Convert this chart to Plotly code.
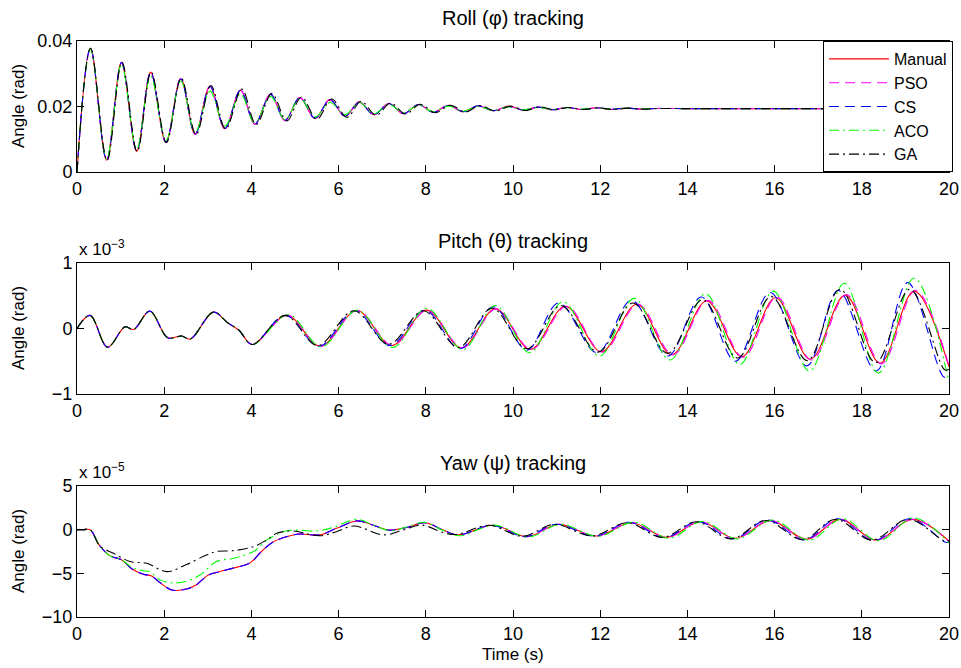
import plotly.graph_objects as go

# ---------------- data ----------------
series_names = ["Manual", "PSO", "CS", "ACO", "GA"]
series_colors = ["#FF0000", "#FF00FF", "#0000FF", "#00FF00", "#000000"]
series_dash = ["solid", "10px,6px", "10px,6px", "10px,4px,2px,4px", "10px,4px,2px,4px"]

# Roll (rad)
roll_t = [0, 0.31, 0.68, 1.02, 1.37, 1.69, 2.04, 2.38, 2.71, 3.05, 3.39, 3.75, 4.08, 4.44,
          4.77, 5.11, 5.46, 5.80, 6.15, 6.47, 6.81, 7.15, 7.49, 7.83, 8.17, 8.52, 8.86,
          9.20, 9.55, 9.90, 10.24, 10.58, 10.90, 11.24, 11.58, 11.92, 12.26, 12.61, 12.95,
          13.30, 14.0, 15.0, 16.0, 17.0, 18.0, 19.0, 20.0]
roll_manual = [0, 0.0378, 0.0036, 0.0335, 0.0063, 0.0305, 0.0090, 0.0285, 0.0115, 0.0262,
               0.0132, 0.0250, 0.0146, 0.0238, 0.0157, 0.0227, 0.0163, 0.0221, 0.0170, 0.0214,
               0.0175, 0.0209, 0.0178, 0.0206, 0.0182, 0.0204, 0.0184, 0.0202, 0.0187, 0.0201,
               0.0189, 0.0198, 0.0190, 0.0197, 0.0191, 0.0196, 0.0191, 0.0195, 0.0192, 0.0194,
               0.01935, 0.01935, 0.01935, 0.01935, 0.01935, 0.01935, 0.01935]
roll_pso = [0, 0.0378, 0.0036, 0.0335, 0.0063, 0.0305, 0.0090, 0.0285, 0.0115, 0.0262,
            0.0132, 0.0250, 0.0146, 0.0238, 0.0157, 0.0227, 0.0163, 0.0221, 0.0170, 0.0214,
            0.0175, 0.0209, 0.0178, 0.0206, 0.0182, 0.0204, 0.0184, 0.0202, 0.0187, 0.0201,
            0.0189, 0.0198, 0.0190, 0.0197, 0.0191, 0.0196, 0.0191, 0.0195, 0.0192, 0.0194,
            0.01935, 0.01935, 0.01935, 0.01935, 0.01935, 0.01935, 0.01935]
roll_cs = [0, 0.0378, 0.0036, 0.0334, 0.0064, 0.0304, 0.0091, 0.0284, 0.0116, 0.0261,
           0.0133, 0.0250, 0.0147, 0.0237, 0.0158, 0.0227, 0.0164, 0.0220, 0.0170, 0.0213,
           0.0175, 0.0209, 0.0178, 0.0206, 0.0182, 0.0203, 0.0184, 0.0202, 0.0187, 0.0200,
           0.0189, 0.0198, 0.0190, 0.0197, 0.0191, 0.0196, 0.0192, 0.0195, 0.0192, 0.0194,
           0.01935, 0.01935, 0.01935, 0.01935, 0.01935, 0.01935, 0.01935]
roll_aco = [0, 0.0376, 0.0040, 0.0328, 0.0070, 0.0293, 0.0096, 0.0278, 0.0120, 0.0247,
            0.0140, 0.0238, 0.0150, 0.0231, 0.0160, 0.0224, 0.0168, 0.0212, 0.0175, 0.0212,
            0.0178, 0.0206, 0.0181, 0.0204, 0.0184, 0.0201, 0.0186, 0.0200, 0.0188, 0.0199,
            0.0190, 0.0197, 0.0191, 0.0196, 0.0192, 0.0195, 0.0192, 0.0195, 0.0193, 0.0194,
            0.01935, 0.01935, 0.01935, 0.01935, 0.01935, 0.01935, 0.01935]
roll_ga_t = [0, 0.31, 0.69, 1.03, 1.38, 1.70, 2.05, 2.39, 2.73, 3.07, 3.41, 3.78, 4.11, 4.47,
             4.81, 5.15, 5.50, 5.84, 6.19, 6.52, 6.86, 7.19, 7.54, 7.87, 8.22, 8.56, 8.91,
             9.24, 9.59, 9.94, 10.28, 10.62, 10.94, 11.28, 11.62, 11.96, 12.30, 12.65, 12.99,
             13.34, 14.0, 15.0, 16.0, 17.0, 18.0, 19.0, 20.0]
roll_ga = [0, 0.0378, 0.0035, 0.0336, 0.0062, 0.0306, 0.0090, 0.0287, 0.0114, 0.0264,
           0.0131, 0.0253, 0.0145, 0.0240, 0.0156, 0.0229, 0.0161, 0.0223, 0.0167, 0.0216,
           0.0173, 0.0210, 0.0177, 0.0207, 0.0181, 0.0204, 0.0183, 0.0203, 0.0186, 0.0201,
           0.0188, 0.0199, 0.0190, 0.0197, 0.0191, 0.0196, 0.0191, 0.0195, 0.0192, 0.0194,
           0.01935, 0.01935, 0.01935, 0.01935, 0.01935, 0.01935, 0.01935]

# Pitch (x 1e-3 rad)
pitch_early_t = [0, 0.30, 0.70, 1.10, 1.30, 1.67, 2.08, 2.40, 2.60, 3.13, 3.45, 3.72, 4.02]
pitch_early_v = [0, 0.20, -0.285, 0.025, -0.015, 0.265, -0.14, -0.115, -0.16, 0.25, 0.09, -0.03, -0.245]

pitch_manual_t = [4.82, 5.58, 6.42, 7.22, 8.02, 8.82, 9.60, 10.40, 11.20, 12.03, 12.84, 13.64,
                  14.44, 15.25, 16.02, 16.82, 17.62, 18.42, 19.20, 20.0]
pitch_manual_v = [0.20, -0.27, 0.275, -0.26, 0.28, -0.295, 0.30, -0.32, 0.34, -0.355, 0.37,
                  -0.40, 0.42, -0.43, 0.47, -0.47, 0.51, -0.53, 0.57, -0.585]
pitch_pso_t = [4.83, 5.59, 6.43, 7.24, 8.04, 8.84, 9.62, 10.42, 11.23, 12.05, 12.87, 13.67,
               14.47, 15.28, 16.05, 16.85, 17.65, 18.45, 19.23, 20.0]
pitch_pso_v = [0.20, -0.27, 0.275, -0.26, 0.28, -0.295, 0.30, -0.32, 0.34, -0.36, 0.37,
               -0.40, 0.43, -0.44, 0.48, -0.48, 0.52, -0.54, 0.58, -0.57]
pitch_cs_t = [4.78, 5.55, 6.38, 7.18, 7.98, 8.78, 9.55, 10.32, 11.05, 11.93, 12.72, 13.55,
              14.32, 15.10, 15.90, 16.74, 17.46, 18.33, 19.05, 19.88, 20.0]
pitch_cs_v = [0.20, -0.27, 0.27, -0.26, 0.28, -0.31, 0.33, -0.33, 0.39, -0.37, 0.43, -0.42,
              0.48, -0.50, 0.55, -0.57, 0.58, -0.65, 0.70, -0.74, -0.72]
pitch_aco_t = [4.85, 5.60, 6.43, 7.24, 8.02, 8.85, 9.60, 10.38, 11.15, 11.98, 12.78, 13.60,
               14.42, 15.20, 15.97, 16.80, 17.60, 18.38, 19.20, 20.0]
pitch_aco_v = [0.21, -0.28, 0.28, -0.29, 0.31, -0.32, 0.35, -0.37, 0.41, -0.42, 0.46, -0.48,
               0.53, -0.55, 0.57, -0.65, 0.69, -0.68, 0.77, -0.82]
pitch_ga_t = [4.78, 5.52, 6.35, 7.15, 7.95, 8.75, 9.52, 10.32, 11.10, 11.95, 12.75, 13.55,
              14.35, 15.15, 15.92, 16.75, 17.50, 18.32, 19.10, 19.90, 20.0]
pitch_ga_v = [0.20, -0.26, 0.27, -0.24, 0.27, -0.29, 0.31, -0.31, 0.35, -0.36, 0.39, -0.38,
              0.44, -0.45, 0.49, -0.49, 0.60, -0.52, 0.60, -0.63, -0.62]

# Yaw (x 1e-5 rad)
yaw_manual_t = [0, 0.15, 0.30, 0.53, 0.76, 1.02, 1.29, 1.52, 1.71, 1.90, 2.17, 2.51, 2.74, 3.01,
                3.28, 3.59, 3.97, 4.23, 4.50, 4.89, 5.11, 5.57, 5.95, 6.41, 6.75, 7.14, 7.56,
                7.98, 8.40, 8.75, 9.55, 10.32, 11.04, 11.92, 12.72, 13.53, 14.30, 15.10,
                15.90, 16.74, 17.50, 18.33, 19.17, 20.0]
yaw_manual_v = [0, 0, 0, -1.9, -3.0, -3.45, -4.6, -5.1, -5.3, -6.05, -6.9, -6.8, -6.3, -5.2,
                -4.8, -4.4, -3.8, -2.5, -1.4, -0.7, -0.5, -0.6, 0.15, 1.0, 0.6, -0.05, 0.25,
                0.8, -0.05, -0.6, 0.5, -0.8, 0.6, -0.72, 0.8, -0.88, 0.9, -1.0, 1.03, -1.1,
                1.18, -1.18, 1.18, -1.3]
yaw_pso_v = [0, 0, 0, -1.9, -3.0, -3.45, -4.6, -5.1, -5.3, -6.05, -6.9, -6.8, -6.3, -5.2,
             -4.8, -4.4, -3.8, -2.5, -1.4, -0.7, -0.5, -0.6, 0.15, 1.0, 0.6, -0.05, 0.25,
             0.8, -0.05, -0.6, 0.5, -0.8, 0.62, -0.74, 0.82, -0.9, 0.92, -1.02, 1.06, -1.12,
             1.2, -1.2, 1.2, -1.35]
yaw_cs_t = [0, 0.15, 0.30, 0.53, 0.76, 1.02, 1.29, 1.52, 1.71, 1.90, 2.17, 2.51, 2.74, 3.01,
            3.28, 3.59, 3.97, 4.23, 4.50, 4.89, 5.11, 5.57, 5.95, 6.41, 6.75, 7.14, 7.56,
            7.98, 8.40, 8.75, 9.52, 10.28, 11.00, 11.88, 12.66, 13.48, 14.24, 15.04,
            15.84, 16.68, 17.44, 18.28, 19.10, 19.92, 20.0]
yaw_cs_v = [0, 0, 0, -1.9, -3.0, -3.45, -4.6, -5.1, -5.3, -6.05, -6.9, -6.8, -6.3, -5.2,
            -4.8, -4.4, -3.8, -2.5, -1.4, -0.7, -0.5, -0.6, 0.15, 1.0, 0.6, -0.05, 0.25,
            0.8, -0.05, -0.6, 0.5, -0.8, 0.62, -0.75, 0.85, -0.92, 0.95, -1.05, 1.1, -1.18,
            1.25, -1.25, 1.25, -1.45, -1.42]
yaw_aco_t = [0, 0.15, 0.30, 0.53, 0.76, 1.02, 1.29, 1.52, 1.67, 1.90, 2.20, 2.50, 2.82, 3.20,
             3.59, 4.05, 4.35, 4.73, 4.96, 5.50, 5.88, 6.41, 6.80, 7.17, 7.56, 7.98, 8.40,
             8.78, 9.58, 10.36, 11.08, 11.96, 12.78, 13.57, 14.35, 15.14, 15.95, 16.79,
             17.56, 18.38, 19.20, 20.0]
yaw_aco_v = [0, 0, 0, -1.9, -3.0, -3.45, -4.4, -4.7, -4.8, -5.75, -6.1, -5.9, -5.2, -3.65,
             -3.27, -2.5, -1.2, -0.23, -0.05, -0.15, 0.27, 1.18, 0.53, -0.1, 0.3, 0.85, -0.1,
             -0.7, 0.52, -0.85, 0.62, -0.75, 0.85, -0.98, 0.95, -1.05, 1.1, -1.2, 1.25,
             -1.28, 1.35, -1.55]
yaw_ga_t = [0, 0.15, 0.30, 0.53, 0.84, 1.22, 1.60, 2.06, 2.51, 2.97, 3.20, 3.59, 4.05, 4.35,
            4.58, 4.96, 5.57, 5.95, 6.35, 7.03, 7.50, 7.90, 8.40, 8.70, 9.45, 10.22, 10.95,
            11.82, 12.62, 13.43, 14.20, 15.00, 15.80, 16.64, 17.40, 18.23, 19.07, 19.90, 20.0]
yaw_ga_v = [0, 0, 0, -1.9, -2.7, -3.65, -3.85, -4.8, -4.0, -2.9, -2.5, -2.4, -1.94, -1.18,
            -0.42, -0.15, -0.7, -0.23, 0.42, -0.6, 0.0, 0.53, -0.34, -0.55, 0.5, -0.75, 0.6,
            -0.72, 0.8, -0.9, 0.9, -1.05, 1.05, -1.15, 1.2, -1.2, 1.2, -1.3, -1.25]

x_ticks = [0, 2, 4, 6, 8, 10, 12, 14, 16, 18, 20]
roll_ticks = [0, 0.02, 0.04]
pitch_ticks = [-1, 0, 1]
yaw_ticks = [-10, -5, 0, 5]

# ---------------- figure ----------------
FONT = "Liberation Sans, Arial, Helvetica, sans-serif"
fig = go.Figure()

roll_data = [(roll_t, roll_manual), (roll_t, roll_pso), (roll_t, roll_cs),
             (roll_t, roll_aco), (roll_ga_t, roll_ga)]
pitch_data = [(pitch_early_t + pitch_manual_t, pitch_early_v + pitch_manual_v),
              (pitch_early_t + pitch_pso_t, pitch_early_v + pitch_pso_v),
              (pitch_early_t + pitch_cs_t, pitch_early_v + pitch_cs_v),
              (pitch_early_t + pitch_aco_t, pitch_early_v + pitch_aco_v),
              (pitch_early_t + pitch_ga_t, pitch_early_v + pitch_ga_v)]
yaw_data = [(yaw_manual_t, yaw_manual_v), (yaw_manual_t, yaw_pso_v), (yaw_cs_t, yaw_cs_v),
            (yaw_aco_t, yaw_aco_v), (yaw_ga_t, yaw_ga_v)]

for (data, xa, ya, show) in [(roll_data, "x", "y", True), (pitch_data, "x2", "y2", False),
                             (yaw_data, "x3", "y3", False)]:
    for i, (tt, vv) in enumerate(data):
        fig.add_trace(go.Scatter(
            x=tt, y=vv, xaxis=xa, yaxis=ya, mode="lines",
            name=series_names[i], legendgroup=series_names[i], showlegend=show,
            line=dict(color=series_colors[i], width=1.1, dash=series_dash[i],
                      shape="spline", smoothing=1.0)))

# paper area = plot area: x 77..949, y 41..617 (px)
H = 576.0
def ypx(p):
    return 1 - (p - 41) / H

axis_common = dict(showline=True, linecolor="black", linewidth=1, mirror="ticks",
                   ticks="inside", ticklen=7, tickwidth=1, tickcolor="black",
                   showgrid=False, zeroline=False,
                   tickfont=dict(family=FONT, size=18, color="black"))

layout = dict(
    width=961, height=668,
    margin=dict(l=77, r=12, t=41, b=51, autoexpand=False),
    paper_bgcolor="white", plot_bgcolor="white",
    showlegend=True,
    legend=dict(x=(953 - 77) / 872.0, xanchor="right", y=1, yanchor="top",
                bgcolor="white", bordercolor="black", borderwidth=1,
                font=dict(family=FONT, size=16, color="black"),
                itemwidth=60, tracegroupgap=0),
)
doms = [(ypx(172), 1.0), (ypx(394), ypx(263)), (0.0, ypx(486))]
yr = [[0, 0.04], [-1, 1], [-10, 5]]
yt = [roll_ticks, pitch_ticks, yaw_ticks]
ytt = [["0", "0.02", "0.04"], ["\u22121", "0", "1"], ["\u221210", "\u22125", "0", "5"]]
for k in range(3):
    sx = "" if k == 0 else str(k + 1)
    layout["xaxis" + sx] = dict(axis_common, range=[0, 20], tickvals=x_ticks,
                                anchor="y" + sx, domain=[0, 1])
    layout["yaxis" + sx] = dict(axis_common, range=yr[k], tickvals=yt[k], ticktext=ytt[k],
                                anchor="x" + sx, domain=list(doms[k]))
fig.update_layout(**layout)

ann = []
titles = [("Roll (\u03c6) tracking", 18), ("Pitch (\u03b8) tracking", 241), ("Yaw (\u03c8) tracking", 463)]
for txt, py in titles:
    ann.append(dict(text=txt, x=0.5, y=ypx(py), xref="paper", yref="paper",
                    xanchor="center", yanchor="middle", showarrow=False,
                    font=dict(family=FONT, size=20, color="black")))
for pyc in [106.5, 328.5, 551.5]:
    ann.append(dict(text="Angle (rad)", x=(18.5 - 77) / 872.0, y=ypx(pyc), xref="paper",
                    yref="paper", xanchor="center", yanchor="middle", textangle=-90,
                    showarrow=False, font=dict(family=FONT, size=17, color="black")))
for txt, pb in [("x 10<sup>\u22123</sup>", 261), ("x 10<sup>\u22125</sup>", 484)]:
    ann.append(dict(text=txt, x=0, y=ypx(pb), xref="paper", yref="paper",
                    xanchor="left", yanchor="bottom", showarrow=False,
                    font=dict(family=FONT, size=17, color="black")))
ann.append(dict(text="Time (s)", x=0.5, y=ypx(654), xref="paper", yref="paper",
                xanchor="center", yanchor="middle", showarrow=False,
                font=dict(family=FONT, size=17, color="black")))
fig.update_layout(annotations=ann)

fig.write_html("out.html")
